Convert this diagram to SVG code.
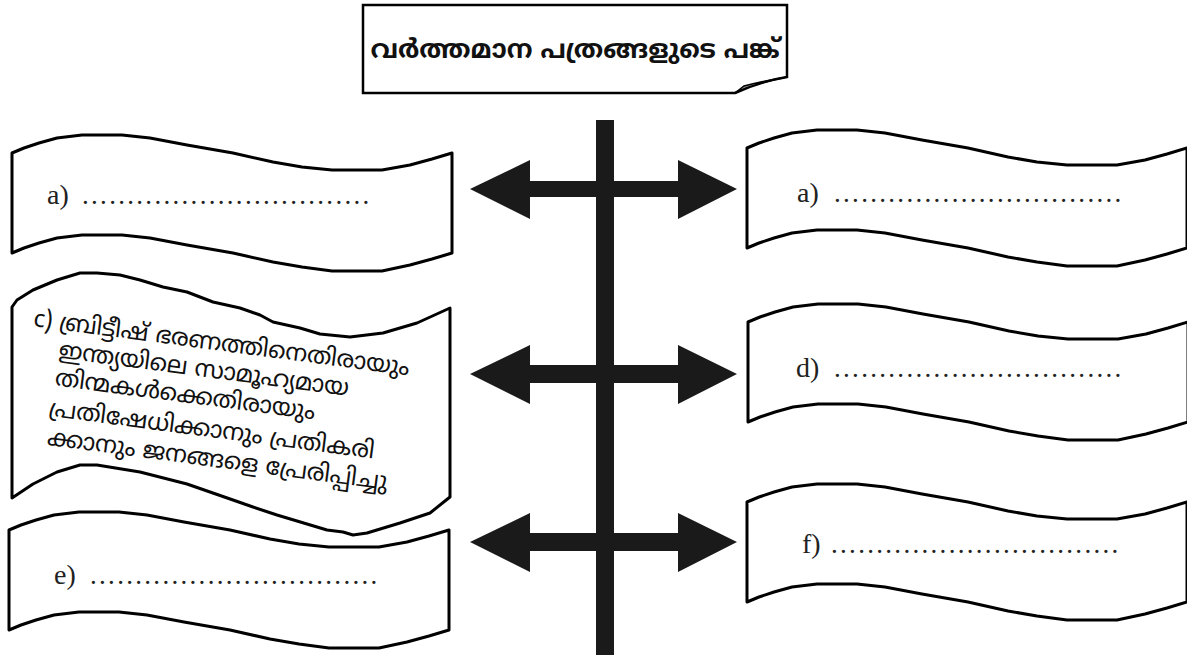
<svg xmlns="http://www.w3.org/2000/svg" xmlns:xlink="http://www.w3.org/1999/xlink" width="1187" height="655" viewBox="0 0 1187 655">
<style>
.box{fill:#fff;stroke:#000;stroke-width:3;stroke-linejoin:round}
.arrow{fill:#1a1a1a}
.lbl{font-family:"Liberation Serif","Times New Roman",serif;font-size:28px;fill:#222}
.dots{letter-spacing:2.3px;font-size:27px}
.ml{font-family:"Noto Sans Malayalam","Noto Sans","DejaVu Sans",sans-serif;fill:#111}
.title{font-size:26px;font-weight:bold;text-anchor:middle}
.body{font-size:24px}
</style>
<defs>
<path id="scroll" d="M0,0 L12,-5 L27,-10 L45,-15 L70,-18 L110,-18 L138,-15 L175,-8 L221,0 L261,9 L290,14 L320,17 L370,17 L398,12 L420,6 L440,0 L440,100 L420,106 L398,112 L370,118 L320,118 L290,114 L261,109 L221,100 L175,92 L138,85 L110,82 L70,82 L45,85 L27,90 L12,95 L0,100 Z"/>
</defs>
<rect width="1187" height="655" fill="#fff"/>
<g id="title">
<path d="M363,5 H787 V77 Q758,82 735,93 H363 Z" fill="#fff" stroke="#000" stroke-width="2.5"/>
<path d="M735,93 Q752,84 787,77 Q768,80 744,86 Z" fill="#999" stroke="#000" stroke-width="1.5"/>
<text class="ml title" x="575" y="58">വർത്തമാന പത്രങ്ങളുടെ പങ്ക്</text>
</g>
<g id="connectors">
<rect class="arrow" x="596" y="120" width="18" height="535"/>
<polygon class="arrow" points="470,189 530,160 530,181 678,181 678,160 737,189 678,219 678,197 530,197 530,219"/>
<polygon class="arrow" points="470,374 530,345 530,365 678,365 678,345 737,374 678,404 678,383 530,383 530,404"/>
<polygon class="arrow" points="470,542 530,513 530,533 678,533 678,513 737,542 678,572 678,551 530,551 530,572"/>
</g>
<g id="left-a">
<use xlink:href="#scroll" class="box" x="12" y="153"/>
<text class="lbl" x="47" y="204">a)<tspan class="dots" x="82">................................</tspan></text>
</g>
<g id="left-c">
<path class="box" d="M12,307 L17,300 L33,290 L57,280 L80,273 L97,273 L120,275 L140,280 L163,287 L187,292 L213,302 L240,308 L260,315 L273,322 L300,328 L320,334 L350,337 L383,333 L417,323 L450,308 L450,497 L430,513 L400,523 L367,533 L353,535 L343,532 L327,530 L277,515 L253,507 L233,500 L187,484 L140,472 L97,465 L80,465 L57,472 L33,484 L12,498 Z"/>
<g transform="rotate(7.5 33 325)">
<text class="ml body" x="33" y="326">c) ബ്രിട്ടീഷ് ഭരണത്തിനെതിരായും</text>
<text class="ml body" x="62" y="354">ഇന്ത്യയിലെ സാമൂഹ്യമായ</text>
<text class="ml body" x="62" y="382">തിന്മകൾക്കെതിരായും</text>
<text class="ml body" x="60" y="413">പ്രതിഷേധിക്കാനും പ്രതികരി</text>
<text class="ml body" x="62" y="442">ക്കാനും ജനങ്ങളെ പ്രേരിപ്പിച്ചു</text>
</g>
</g>
<g id="left-e">
<use xlink:href="#scroll" class="box" x="9" y="530"/>
<text class="lbl" x="54" y="584">e)<tspan class="dots" x="90">................................</tspan></text>
</g>
<g id="right-a">
<use xlink:href="#scroll" class="box" x="747" y="148"/>
<text class="lbl" x="797" y="202">a)<tspan class="dots" x="834">................................</tspan></text>
</g>
<g id="right-d">
<use xlink:href="#scroll" class="box" x="748" y="322"/>
<text class="lbl" x="796" y="377">d)<tspan class="dots" x="834">................................</tspan></text>
</g>
<g id="right-f">
<use xlink:href="#scroll" class="box" x="747" y="502"/>
<text class="lbl" x="802" y="553">f)<tspan class="dots" x="831">................................</tspan></text>
</g>
</svg>
